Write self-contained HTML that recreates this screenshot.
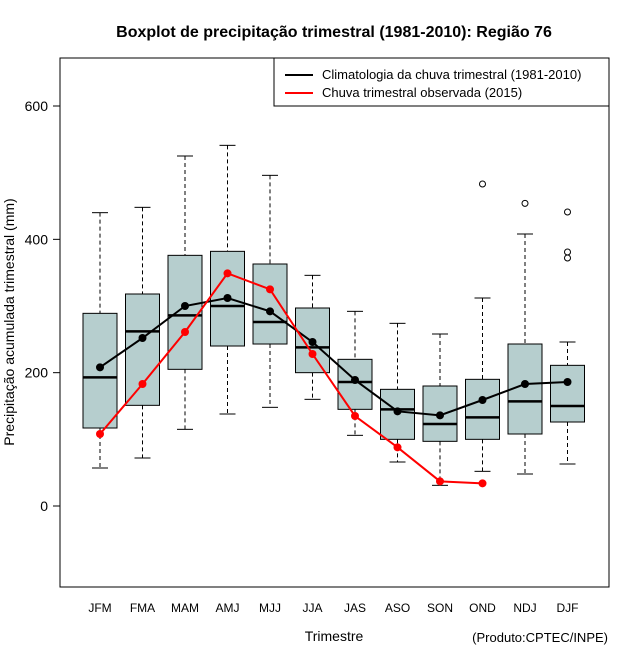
<!DOCTYPE html>
<html><head><meta charset="utf-8"><style>
body{margin:0;background:#fff}
text{font-family:"Liberation Sans",sans-serif}
</style></head><body>
<svg id="c" width="640" height="660" xmlns="http://www.w3.org/2000/svg">
<text x="334" y="37" text-anchor="middle" font-size="16" font-weight="bold">Boxplot de precipitação trimestral (1981-2010): Região 76</text>
<rect x="60" y="58" width="549" height="529" fill="none" stroke="#000"/>
<text x="334" y="641" text-anchor="middle" font-size="14">Trimestre</text>
<text x="14" y="322" text-anchor="middle" font-size="14" transform="rotate(-90 14 322)">Precipitação acumulada trimestral (mm)</text>
<text x="608" y="642" text-anchor="end" font-size="13">(Produto:CPTEC/INPE)</text>
<g>
<rect x="274" y="58" width="335" height="48" fill="#fff" stroke="#000"/>
<line x1="285" y1="75" x2="313" y2="75" stroke="#000" stroke-width="2"/>
<text x="322" y="79" font-size="13">Climatologia da chuva trimestral (1981-2010)</text>
<line x1="285" y1="93" x2="313" y2="93" stroke="#f00" stroke-width="2"/>
<text x="322" y="97" font-size="13">Chuva trimestral observada (2015)</text>
</g>
<g id="g"></g>
</svg>
<script>
const categories=["JFM","FMA","MAM","AMJ","MJJ","JJA","JAS","ASO","SON","OND","NDJ","DJF"];
const whiskerLow=[57,72,115,138,148,160,106,66,31,52,48,63];
const q1=[117,151,205,240,243,200,145,100,97,100,108,126];
const median=[193,262,286,300,276,238,186,145,123,133,157,150];
const q3=[289,318,376,382,363,297,220,175,180,190,243,211];
const whiskerHigh=[440,448,525,541,496,346,292,274,258,312,408,246];
const climMean=[208,252,300,312,292,246,189,142,136,159,183,186];
const observed=[108,183,261,349,325,228,135,88,37,34];
const outlierCat=[9,10,11,11,11];
const outlierVal=[483,454,441,381,372];
const yTicks=[0,200,400,600];
const NS="http://www.w3.org/2000/svg";
const g=document.getElementById('g');
const X=i=>100+i*42.5;
const Y=v=>506-v*(133.33/200);
function mk(t,a,p){const e=document.createElementNS(NS,t);for(const k in a)e.setAttribute(k,a[k]);(p||g).appendChild(e);return e;}
mk('line',{x1:60,y1:Y(600),x2:60,y2:Y(0),stroke:'#000'});
yTicks.forEach(v=>{
 const l=mk('line',{x1:53,x2:60,y1:Y(v),y2:Y(v),stroke:'#000'});
 
 
 const t=mk('text',{x:48,y:Y(v)+5,'text-anchor':'end','font-size':14});t.textContent=v;
 
 
});
categories.forEach((c,i)=>{
 const x=X(i);
 const bg=mk('g',{});
 
 
 mk('line',{x1:x,x2:x,y1:Y(whiskerHigh[i]),y2:Y(q3[i]),stroke:'#000','stroke-dasharray':'4,3'},bg);
 mk('line',{x1:x,x2:x,y1:Y(q1[i]),y2:Y(whiskerLow[i]),stroke:'#000','stroke-dasharray':'4,3'},bg);
 mk('line',{x1:x-8,x2:x+8,y1:Y(whiskerHigh[i]),y2:Y(whiskerHigh[i]),stroke:'#000'},bg);
 mk('line',{x1:x-8,x2:x+8,y1:Y(whiskerLow[i]),y2:Y(whiskerLow[i]),stroke:'#000'},bg);
 mk('rect',{x:x-17,y:Y(q3[i]),width:34,height:Y(q1[i])-Y(q3[i]),fill:'#b6cece',stroke:'#000'},bg);
 mk('line',{x1:x-17,x2:x+17,y1:Y(median[i]),y2:Y(median[i]),stroke:'#000','stroke-width':2.5},bg);
 const t=mk('text',{x:x,y:612,'text-anchor':'middle','font-size':12});t.textContent=c;
 
 
});
outlierCat.forEach((ci,k)=>{
 const o=mk('circle',{cx:X(ci),cy:Y(outlierVal[k]),r:3,fill:'none',stroke:'#000'});
 
 
});
function series(vals,col,name,sq){
 const p=mk('polyline',{points:vals.map((v,i)=>X(i)+','+Y(v)).join(' '),fill:'none',stroke:col,'stroke-width':2});
 
 
 vals.forEach((v,i)=>{
  const d=mk('circle',{cx:X(i),cy:Y(v),r:4,fill:col});
  
  
 });
}
series(climMean,'#000','climatology');
series(observed,'#f00','observed');
</script>
</body></html>
